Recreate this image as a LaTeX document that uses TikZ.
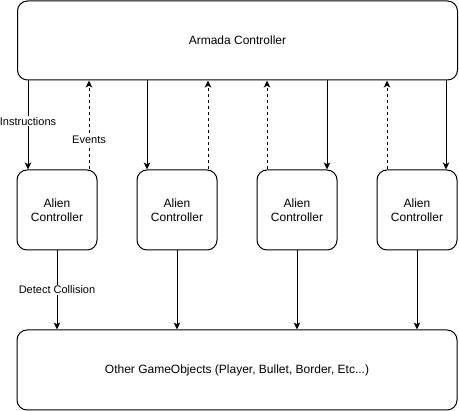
\documentclass[tikz,border=0pt]{standalone}
\usepackage{fontspec}
\setmainfont{Liberation Sans}
\usetikzlibrary{arrows.meta, positioning, calc}

\begin{document}
\begin{tikzpicture}[
        x=1pt, y=-1pt,
        node distance=39pt,
        block/.style={
            rectangle,
            draw,
            line width=1pt,
            rounded corners=10pt,
            minimum width=80pt,
            minimum height=80pt,
            font=\fontsize{12}{14}\selectfont,
            text centered,
            align=center
        },
        wide/.style={block, minimum width=440pt, minimum height=79pt},
        line/.style={draw, line width=1pt, -{Stealth[length=7pt, width=6.5pt, inset=1.8pt]}},
        event/.style={line, dash pattern=on 3pt off 3pt},
        tag/.style={fill=white, inner sep=1pt, font=\fontsize{11}{13}\selectfont}
    ]
        \useasboundingbox (0,0) rectangle (459,411);

        % nodes
        \node [wide] (armada) at (237.5,40.5) {Armada Controller};
        \node [block] (alien1) at (57,210) {Alien\\Controller};
        \node [block, right=of alien1] (alien2) {Alien\\Controller};
        \node [block, right=of alien2] (alien3) {Alien\\Controller};
        \node [block, right=of alien3] (alien4) {Alien\\Controller};
        \node [wide, minimum height=80pt] (others) at (237,370) {Other GameObjects (Player, Bullet, Border, Etc...)};

        % paths
        \path [line] ([xshift=-29pt]alien1.north |- armada.south) -- node[tag, pos=0.46] {Instructions} ([xshift=-29pt]alien1.north);
        \path [event] ([xshift=32pt]alien1.north) -- node[tag, pos=0.33] {Events} ([xshift=32pt]alien1.north |- armada.south);

        \path [line] ([xshift=-30pt]alien2.north |- armada.south) -- ([xshift=-30pt]alien2.north);
        \path [event] ([xshift=31pt]alien2.north) -- ([xshift=31pt]alien2.north |- armada.south);

        \path [event] ([xshift=-30pt]alien3.north) -- ([xshift=-30pt]alien3.north |- armada.south);
        \path [line] ([xshift=30pt]alien3.north |- armada.south) -- ([xshift=30pt]alien3.north);

        \path [event] ([xshift=-30pt]alien4.north) -- ([xshift=-30pt]alien4.north |- armada.south);
        \path [line] ([xshift=29pt]alien4.north |- armada.south) -- ([xshift=29pt]alien4.north);

        \path [line] (alien1) -- node[tag, pos=0.5] {Detect Collision} (alien1 |- others.north);
        \path [line] (alien2) -- (alien2 |- others.north);
        \path [line] (alien3) -- (alien3 |- others.north);
        \path [line] (alien4) -- (alien4 |- others.north);

    \end{tikzpicture}
\end{document}
